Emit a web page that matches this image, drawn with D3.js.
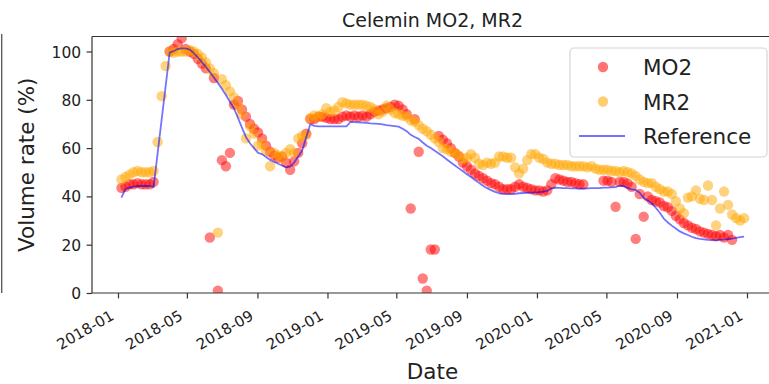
<!DOCTYPE html>
<html>
<head>
<meta charset="utf-8">
<script src="https://cdn.jsdelivr.net/npm/d3@7"></script>
<style>
  body { margin: 0; background: #fff; }
  text { font-family: "DejaVu Sans", sans-serif; fill: #222; }
</style>
</head>
<body>
<svg id="chart" width="769" height="384"></svg>
<script>
// Weekly observations, starting on the first Sunday of 2018
const firstWeek = "2018-01-07";

// MO2 volume rate (%) per week; null = no observation
const mo2 = [
  43.5, 44, 45, 45, 45.5, 45, 45, 45, 46,
  null, null, null,
  100, 101, 103, 105.5, 101,
  100, 99, 97, 95, 93,
  23, 89, 1, 55, 52.5, 58,
  78, 79.5, 76, 73, 70, 68, 66.5,
  64, 61, 58.5, 57, 56, 56.5, 54, 51, 54.5, 58, 62, 66, 72,
  72, 73, 73, 72.5, 72, 72, 72, 73, 73.5, 73, 73.5, 73, 73.5, 73, 74, 75, 75.5, 76, 76.5, 77, 78, 77.5, 76, 74,
  35, 72, 58.5, 6, 1, 18, 18,
  65, 63.5, 62, 60, 58, 56.5, 54, 52.5, 51, 49.5, 48.5, 47.5, 46.5, 45.5, 45, 44, 43, 43,
  43, 44, 45, 44, 43.5, 43, 42.5, 42.5, 42, 42.5,
  45, 47.5, 47, 46.5, 46, 46, 45.5, 45, 45,
  null, null, null, null,
  46.5, 46.5, 46, 35.7, 46, 46, 45.4, 44, 22.4, 41, 31.6,
  40, 38.5, 38, 37.5, 36, 35.5, 34, 32, 30.5, 29, 28, 27, 26.5, 25.5, 25, 24.5, 24, 23.5, 24, 23, 24, 22,
  null, null, null
];

// MR2 volume rate (%) per week
const mr2 = [
  47, 48, 49, 50, 50.5, 50, 50, 50, 50.5,
  62.5, 81.5, 94,
  100, 99.5, 100, 100, 100,
  100.5, 100, 99, 97.5, 95.5,
  93, 91, 25, 88.5, 86, 83.5,
  81, 77.5, 74, 64, 69, 66, 61,
  62, 59, 52.5, 58, 57, 56, 58, 59.5, 58, 64, 65, 65.5, 72.5,
  73.5, 73, 74, 76.5, 75, 75.5, 77, 79, 78.5, 78, 78, 78, 78, 77.5, 77, 76, 74, 75, 77.5, 76, 74.5, 74, 73.5, 73,
  71.5, 71, 69.5, 68, 67, 65.5, 64,
  62.5, 60, 59.5, 58.5, 58, 57, 55.5, 56, 57.5, 56, 53.5, 53, 54, 53.5, 54, 56.5, 56.5, 56,
  56, 52, 49.5, 51.5, 55, 57.5, 57.5, 56, 55.5, 54,
  53.5, 53.5, 53, 53, 53, 52.5, 52.5, 52.5, 52.5,
  52, 52.5, 51.5, 51,
  51, 51, 50.5, 50.5, 50, 50.5, 50, 49.5, 48.5, 47, 46,
  45.5, 45.5, 44, 43, 42, 42, 41, 38, 35, 33, 39.5, 40, 42.5, 39, 38.5, 44.5, 38.5, 28, 35, 42, 36.5, 32.5,
  31, 30, 31
];

// Reference volume rate (%) per week
const reference = [
  39.5, 43, 43.6, 44, 44.3, 44.3, 44.3, 44.3, 43.8,
  null, null, null,
  99.5, 100.2, 101, 101.3, 101.3,
  100.8, 99.3, 97.6, 95.6, 93.6,
  91.5, 89.2, 87, 84.6, 82, 79.2,
  76.5, 72.5, 68.5, 64.5, 62, 60, 58,
  57.5, 56.3, 55.1, 54.3, 53.5, 52.8, 52, 52.3, 54, 56.5, 59, 64.5, 69.9,
  69.2, 69, 69, 69, 69, 69, 69, 69, 69, 70.8, 70.8, 70.7, 70.6, 70.4, 70.2, 70.1, 70, 69.8, 69.5, 69.3, 69.1, 68.9, 68, 67,
  65.5, 64.6, 63.8, 62.3, 61, 60, 58.9,
  57.8, 56.6, 55.3, 54, 52.8, 51.6, 50.4, 49.2, 48, 46.8, 45.6, 44.4, 43.4, 42.6, 41.9, 41.3, 41, 40.9,
  40.9, 41.1, 41.3, 41.4, 41.5, 41.6, 41.7, 41.8, 42, 42.3,
  43.3, 43.6, 43.5, 43.4, 43.4, 43.3, 43.3, 43.2, 43.2,
  43.3, 43.4, 43.4, 43.4,
  43.6, 43.6, 43.7, 43.8, 44.5, 44.2, 43.4, 42.9, 42.7, 41.5, 39.3,
  38.3, 37.2, 35.3, 33.2, 30.8, 29.2, 27.9, 26.7, 25.5, 24.7, 24, 23.3, 22.7, 22.4, 22.2, 22, 21.9, 21.9, 22, 22.1, 22.3, 22.5,
  22.8, 23.1, 23.3
];

const yTicks = [0, 20, 40, 60, 80, 100];
const seriesNames = ["MO2", "MR2", "Reference"];
const titleText = "Celemin MO2, MR2";
const xLabel = "Date";
const yLabel = "Volume rate (%)";

// ---- layout ----
const plot = { left: 92, right: 773, top: 36.5, bottom: 293 };
const tickLen = 5.4, tickPad = 5.4;
const dotR = 5.2;
const colors = { MO2: "#ff0000", MR2: "#ffa500", Reference: "#0000ff" };

const svg = d3.select("#chart");
svg.append("rect").attr("width", 769).attr("height", 384).attr("fill", "#fff");

const start = d3.utcParse("%Y-%m-%d")(firstWeek);
const dates = mo2.map((_, i) => d3.utcDay.offset(start, 7 * i));

const x = d3.scaleUtc()
  .domain([new Date(Date.UTC(2017, 10, 16, 17)), new Date(Date.UTC(2021, 1, 15, 7))])
  .range([plot.left, plot.right]);
const y = d3.scaleLinear().domain([0, 106.2]).range([plot.bottom, plot.top]);

// edge of a neighbouring panel at the far left
svg.append("line")
  .attr("x1", 1.7).attr("x2", 1.7).attr("y1", 34).attr("y2", 293)
  .attr("stroke", "#555").attr("stroke-width", 1.3);

// clip region for the data marks
svg.append("clipPath").attr("id", "plotClip")
  .append("rect")
  .attr("x", plot.left).attr("y", plot.top)
  .attr("width", plot.right - plot.left).attr("height", plot.bottom - plot.top);

const marks = svg.append("g").attr("clip-path", "url(#plotClip)");

function drawDots(values, color) {
  const pts = values.map((v, i) => ({ d: dates[i], v })).filter(p => p.v !== null);
  marks.append("g")
    .selectAll("circle").data(pts).join("circle")
    .attr("cx", p => x(p.d)).attr("cy", p => y(p.v)).attr("r", dotR)
    .attr("fill", color).attr("fill-opacity", 0.5);
}
drawDots(mo2, colors.MO2);
drawDots(mr2, colors.MR2);

const refPts = reference.map((v, i) => ({ d: dates[i], v })).filter(p => p.v !== null);
marks.append("path")
  .datum(refPts)
  .attr("fill", "none")
  .attr("stroke", colors.Reference).attr("stroke-opacity", 0.55)
  .attr("stroke-width", 1.8).attr("stroke-linejoin", "round")
  .attr("d", d3.line().x(p => x(p.d)).y(p => y(p.v)));

// ---- axes ----
const xAxis = svg.append("g")
  .attr("transform", `translate(0,${plot.bottom})`)
  .call(d3.axisBottom(x)
    .ticks(d3.utcMonth.every(4))
    .tickFormat(d3.utcFormat("%Y-%m"))
    .tickSize(tickLen));
xAxis.select(".domain").remove();
xAxis.selectAll(".tick line").attr("stroke", "#333").attr("stroke-width", 1.2);
xAxis.selectAll(".tick text")
  .attr("y", null).attr("dy", null)
  .attr("text-anchor", "end")
  .attr("font-size", 15)
  .attr("transform", `translate(-3.5,${tickLen + tickPad + 15}) rotate(-30)`);

const yAxis = svg.append("g")
  .attr("transform", `translate(${plot.left},0)`)
  .call(d3.axisLeft(y).tickValues(yTicks).tickSize(tickLen).tickPadding(tickPad));
yAxis.select(".domain").remove();
yAxis.selectAll(".tick line").attr("stroke", "#333").attr("stroke-width", 1.2);
yAxis.selectAll(".tick text").attr("font-size", 15.5).attr("dy", "0.36em");

// spines
const spine = svg.append("g").attr("stroke", "#333").attr("stroke-width", 1.2).attr("fill", "none");
spine.append("line").attr("x1", plot.left).attr("x2", plot.right).attr("y1", plot.top).attr("y2", plot.top);
spine.append("line").attr("x1", plot.left).attr("x2", plot.right).attr("y1", plot.bottom).attr("y2", plot.bottom);
spine.append("line").attr("x1", plot.left).attr("x2", plot.left).attr("y1", plot.top).attr("y2", plot.bottom);
spine.append("line").attr("x1", plot.right).attr("x2", plot.right).attr("y1", plot.top).attr("y2", plot.bottom);

// ---- labels ----
const midX = (plot.left + plot.right) / 2;
svg.append("text").attr("x", midX).attr("y", 26.5)
  .attr("text-anchor", "middle").attr("font-size", 19).text(titleText);
svg.append("text").attr("x", midX).attr("y", 379)
  .attr("text-anchor", "middle").attr("font-size", 21.5).text(xLabel);
svg.append("text")
  .attr("transform", `translate(33.5,${(plot.top + plot.bottom) / 2}) rotate(-90)`)
  .attr("text-anchor", "middle").attr("font-size", 21.5).text(yLabel);

// ---- legend ----
const legend = svg.append("g");
legend.append("rect")
  .attr("x", 570).attr("y", 48).attr("width", 197).attr("height", 109).attr("rx", 4)
  .attr("fill", "#fff").attr("fill-opacity", 0.8)
  .attr("stroke", "#d4d4d4").attr("stroke-width", 1.2);
seriesNames.forEach((name, i) => {
  const base = 75 + i * 34.5;
  const cy = base - 8;
  if (name === "Reference") {
    legend.append("line").attr("x1", 579).attr("x2", 625).attr("y1", cy).attr("y2", cy)
      .attr("stroke", colors[name]).attr("stroke-opacity", 0.55).attr("stroke-width", 1.8);
  } else {
    legend.append("circle").attr("cx", 603).attr("cy", cy).attr("r", dotR)
      .attr("fill", colors[name]).attr("fill-opacity", 0.55);
  }
  legend.append("text").attr("x", 643).attr("y", base).attr("font-size", 21.5).text(name);
});
</script>
</body>
</html>
